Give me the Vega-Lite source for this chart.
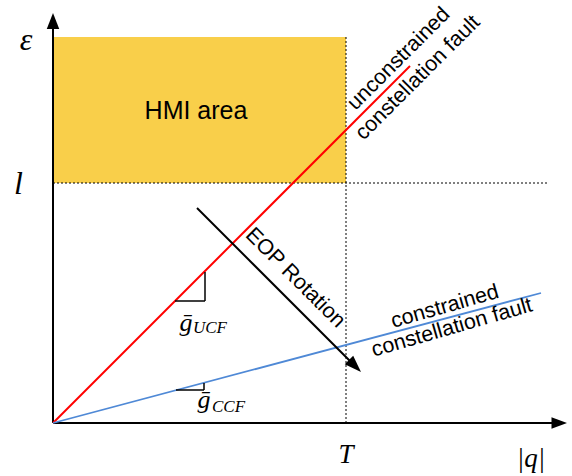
{
  "$schema": "https://vega.github.io/schema/vega-lite/v6.json",
  "width": 572,
  "height": 476,
  "autosize": {"type": "none"},
  "padding": 0,
  "background": "white",
  "config": {"view": {"stroke": null}},
  "datasets": {
    "region": [{"x": 0, "x2": 293, "y": 240, "y2": 386}],
    "guides": [
      {"x": 0, "y": 240, "x2": 495, "y2": 240},
      {"x": 293, "y": 0, "x2": 293, "y2": 386}
    ],
    "axislines": [
      {"x": 0, "y": 0, "x2": 0, "y2": 398},
      {"x": 0, "y": 0, "x2": 502, "y2": 0}
    ],
    "ytip": [{"x": 0, "y": 410}],
    "xtip": [{"x": 514, "y": 0}],
    "ucf": [{"x": 0, "y": 0, "x2": 357, "y2": 357}],
    "ccf": [{"x": 0, "y": 0, "x2": 488, "y2": 130}],
    "eop": [{"x": 144, "y": 215, "x2": 302, "y2": 57}],
    "eoptip": [{"x": 308, "y": 51}],
    "slopes": [
      {"x": 122, "y": 122, "x2": 152, "y2": 122},
      {"x": 152, "y": 122, "x2": 152, "y2": 151},
      {"x": 123, "y": 33, "x2": 151, "y2": 33},
      {"x": 151, "y": 33, "x2": 151, "y2": 40}
    ],
    "hmi": [{"x": 143, "y": 304, "label": "HMI area"}],
    "mathbig": [
      {"x": -27, "y": 373, "label": "ε"},
      {"x": -34.5, "y": 229, "label": "l"}
    ],
    "mathsmall": [
      {"x": 293, "y": -40, "label": "T"},
      {"x": 478, "y": -44, "label": "|q|"}
    ],
    "gbar": [
      {"x": 133, "y": 92, "label": "ḡ"},
      {"x": 151, "y": 15, "label": "ḡ"}
    ],
    "gsub": [
      {"x": 140, "y": 90, "label": "UCF"},
      {"x": 159, "y": 11, "label": "CCF"}
    ],
    "ucflabel": [
      {"x": 346, "y": 364, "label": "unconstrained"},
      {"x": 365, "y": 345, "label": "constellation fault"}
    ],
    "eoplabel": [{"x": 242, "y": 145, "label": "EOP Rotation"}],
    "ccflabel": [
      {"x": 392, "y": 116, "label": "constrained"},
      {"x": 399, "y": 95, "label": "constellation fault"}
    ]
  },
  "encoding": {
    "x": {"field": "x", "type": "quantitative", "scale": {"domain": [-53, 519], "nice": false, "zero": false}, "axis": null},
    "y": {"field": "y", "type": "quantitative", "scale": {"domain": [-53, 423], "nice": false, "zero": false}, "axis": null}
  },
  "layer": [
    {
      "data": {"name": "region"},
      "mark": {"type": "rect", "color": "#F9CF4A"},
      "encoding": {"x2": {"field": "x2"}, "y2": {"field": "y2"}}
    },
    {
      "data": {"name": "guides"},
      "mark": {"type": "rule", "color": "black", "strokeWidth": 1, "strokeDash": [2, 2]},
      "encoding": {"x2": {"field": "x2"}, "y2": {"field": "y2"}}
    },
    {
      "data": {"name": "axislines"},
      "mark": {"type": "rule", "color": "black", "strokeWidth": 2},
      "encoding": {"x2": {"field": "x2"}, "y2": {"field": "y2"}}
    },
    {
      "data": {"name": "ytip"},
      "mark": {"type": "point", "shape": "M0,0L-0.78,2L0.78,2Z", "filled": true, "color": "black", "opacity": 1, "size": 256, "angle": 0}
    },
    {
      "data": {"name": "xtip"},
      "mark": {"type": "point", "shape": "M0,0L-0.75,2L0.75,2Z", "filled": true, "color": "black", "opacity": 1, "size": 240, "angle": 90}
    },
    {
      "data": {"name": "ucf"},
      "mark": {"type": "rule", "color": "#FF0000", "strokeWidth": 2},
      "encoding": {"x2": {"field": "x2"}, "y2": {"field": "y2"}}
    },
    {
      "data": {"name": "ccf"},
      "mark": {"type": "rule", "color": "#4F89D6", "strokeWidth": 1.8},
      "encoding": {"x2": {"field": "x2"}, "y2": {"field": "y2"}}
    },
    {
      "data": {"name": "eop"},
      "mark": {"type": "rule", "color": "black", "strokeWidth": 2},
      "encoding": {"x2": {"field": "x2"}, "y2": {"field": "y2"}}
    },
    {
      "data": {"name": "eoptip"},
      "mark": {"type": "point", "shape": "M0,0L-0.7,2L0.7,2Z", "filled": true, "color": "black", "opacity": 1, "size": 289, "angle": 135}
    },
    {
      "data": {"name": "slopes"},
      "mark": {"type": "rule", "color": "black", "strokeWidth": 1.5},
      "encoding": {"x2": {"field": "x2"}, "y2": {"field": "y2"}}
    },
    {
      "data": {"name": "hmi"},
      "mark": {"type": "text", "font": "Liberation Sans", "fontSize": 25, "align": "center", "baseline": "alphabetic", "color": "black"},
      "encoding": {"text": {"field": "label"}}
    },
    {
      "data": {"name": "mathbig"},
      "mark": {"type": "text", "font": "Liberation Serif", "fontStyle": "italic", "fontSize": 32, "align": "center", "baseline": "alphabetic", "color": "black"},
      "encoding": {"text": {"field": "label"}}
    },
    {
      "data": {"name": "mathsmall"},
      "mark": {"type": "text", "font": "Liberation Serif", "fontStyle": "italic", "fontSize": 27, "align": "center", "baseline": "alphabetic", "color": "black"},
      "encoding": {"text": {"field": "label"}}
    },
    {
      "data": {"name": "gbar"},
      "mark": {"type": "text", "font": "Liberation Serif", "fontStyle": "italic", "fontSize": 26, "align": "center", "baseline": "alphabetic", "color": "black"},
      "encoding": {"text": {"field": "label"}}
    },
    {
      "data": {"name": "gsub"},
      "mark": {"type": "text", "font": "Liberation Serif", "fontStyle": "italic", "fontSize": 17, "align": "left", "baseline": "alphabetic", "color": "black"},
      "encoding": {"text": {"field": "label"}}
    },
    {
      "data": {"name": "ucflabel"},
      "mark": {"type": "text", "font": "Liberation Sans", "fontSize": 21.5, "align": "center", "baseline": "middle", "angle": -45, "color": "black"},
      "encoding": {"text": {"field": "label"}}
    },
    {
      "data": {"name": "eoplabel"},
      "mark": {"type": "text", "font": "Liberation Sans", "fontSize": 21.5, "align": "center", "baseline": "middle", "angle": 45, "color": "black"},
      "encoding": {"text": {"field": "label"}}
    },
    {
      "data": {"name": "ccflabel"},
      "mark": {"type": "text", "font": "Liberation Sans", "fontSize": 21.5, "align": "center", "baseline": "middle", "angle": -16, "color": "black"},
      "encoding": {"text": {"field": "label"}}
    }
  ]
}
